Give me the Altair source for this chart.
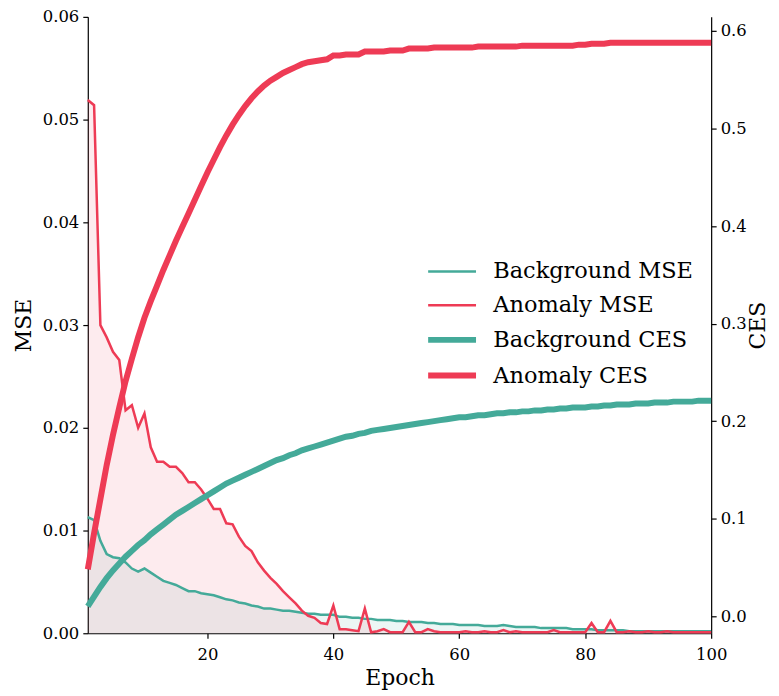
import altair as alt
import pandas as pd

epochs = list(range(1, 101))

anomaly_mse = [
    0.0519, 0.0514, 0.0300, 0.0288, 0.0274, 0.0266, 0.0217, 0.0222, 0.0200, 0.0214,
    0.0181, 0.0167, 0.0167, 0.0162, 0.0162, 0.0156, 0.0147, 0.0147, 0.0140, 0.0131,
    0.0121, 0.0121, 0.0107, 0.0106, 0.0094, 0.0085, 0.0080, 0.0069, 0.0061, 0.0054,
    0.0048, 0.0041, 0.0035, 0.0029, 0.0022, 0.0017, 0.0015, 0.0010, 0.0009, 0.0027,
    0.0004, 0.0004, 0.0003, 0.0002, 0.0024, 0.0001, 0.0002, 0.0004, 0.0001, 0.0001,
    0.0001, 0.0011, 0.0001, 0.0001, 0.0004, 0.0002, 0.0001, 0.0001, 0.0001, 0.0001,
    0.0002, 0.0001, 0.0001, 0.0002, 0.0001, 0.0001, 0.0003, 0.0001, 0.0002, 0.0001,
    0.0001, 0.0001, 0.0001, 0.0001, 0.0003, 0.0001, 0.0001, 0.0001, 0.0001, 0.0001,
    0.0010, 0.0001, 0.0001, 0.0012, 0.0001, 0.0001, 0.0002, 0.0001, 0.0001, 0.0002,
    0.0001, 0.0001, 0.0002, 0.0001, 0.0001, 0.0001, 0.0001, 0.0001, 0.0001, 0.0001,
]

background_mse = [
    0.0113, 0.0110, 0.0090, 0.0077, 0.0074, 0.0073, 0.0069, 0.0063, 0.0060, 0.0063,
    0.0059, 0.0055, 0.0051, 0.0049, 0.0047, 0.0044, 0.0041, 0.0041, 0.0039, 0.0038,
    0.0037, 0.0035, 0.0033, 0.0032, 0.0030, 0.0029, 0.0027, 0.0026, 0.0024, 0.0024,
    0.0023, 0.0022, 0.0022, 0.0021, 0.0020, 0.0019, 0.0019, 0.0018, 0.0018, 0.0018,
    0.0016, 0.0016, 0.0015, 0.0015, 0.0014, 0.0014, 0.0013, 0.0013, 0.0013, 0.0012,
    0.0012, 0.0011, 0.0011, 0.0011, 0.0010, 0.0010, 0.0009, 0.0009, 0.0009, 0.0008,
    0.0008, 0.0008, 0.0008, 0.0007, 0.0007, 0.0007, 0.0008, 0.0007, 0.0006, 0.0006,
    0.0006, 0.0006, 0.0005, 0.0005, 0.0005, 0.0005, 0.0005, 0.0004, 0.0004, 0.0004,
    0.0004, 0.0003, 0.0003, 0.0003, 0.0003, 0.0003, 0.0002, 0.0002, 0.0002, 0.0002,
    0.0002, 0.0002, 0.0002, 0.0002, 0.0002, 0.0002, 0.0002, 0.0002, 0.0002, 0.0002,
]

background_ces = [
    0.010, 0.020, 0.030, 0.039, 0.047, 0.054, 0.061, 0.067, 0.073, 0.078,
    0.084, 0.089, 0.094, 0.099, 0.104, 0.108, 0.112, 0.116, 0.120, 0.124,
    0.128, 0.132, 0.136, 0.139, 0.142, 0.145, 0.148, 0.151, 0.154, 0.157,
    0.160, 0.162, 0.165, 0.167, 0.170, 0.172, 0.174, 0.176, 0.178, 0.180,
    0.182, 0.184, 0.185, 0.187, 0.188, 0.190, 0.191, 0.192, 0.193, 0.194,
    0.195, 0.196, 0.197, 0.198, 0.199, 0.200, 0.201, 0.202, 0.203, 0.204,
    0.204, 0.205, 0.206, 0.206, 0.207, 0.208, 0.208, 0.209, 0.209, 0.210,
    0.210, 0.211, 0.211, 0.212, 0.212, 0.213, 0.213, 0.214, 0.214, 0.214,
    0.215, 0.215, 0.216, 0.216, 0.217, 0.217, 0.217, 0.218, 0.218, 0.218,
    0.219, 0.219, 0.219, 0.220, 0.220, 0.220, 0.220, 0.221, 0.221, 0.221,
]

anomaly_ces = [
    0.048, 0.085, 0.120, 0.155, 0.186, 0.214, 0.241, 0.264, 0.286, 0.306,
    0.323, 0.339, 0.355, 0.370, 0.385, 0.399, 0.413, 0.427, 0.441, 0.455,
    0.468, 0.481, 0.493, 0.504, 0.514, 0.523, 0.531, 0.538, 0.544, 0.549,
    0.553, 0.557, 0.560, 0.563, 0.566, 0.568, 0.569, 0.570, 0.571, 0.575,
    0.575, 0.576, 0.576, 0.576, 0.579, 0.579, 0.579, 0.579, 0.580, 0.580,
    0.580, 0.582, 0.582, 0.582, 0.582, 0.583, 0.583, 0.583, 0.583, 0.583,
    0.583, 0.583, 0.584, 0.584, 0.584, 0.584, 0.584, 0.584, 0.584, 0.585,
    0.585, 0.585, 0.585, 0.585, 0.585, 0.585, 0.585, 0.585, 0.586, 0.586,
    0.587, 0.587, 0.587, 0.588, 0.588, 0.588, 0.588, 0.588, 0.588, 0.588,
    0.588, 0.588, 0.588, 0.588, 0.588, 0.588, 0.588, 0.588, 0.588, 0.588,
]

series_names = ["Background MSE", "Anomaly MSE", "Background CES", "Anomaly CES"]
THIN = 2.5
THICK = 6
TEAL = "#44AA99"
RED = "#EE3B55"
FONT = "DejaVu Serif"

df_bg_mse = pd.DataFrame({"epoch": epochs, "value": background_mse, "series": "Background MSE"})
df_an_mse = pd.DataFrame({"epoch": epochs, "value": anomaly_mse, "series": "Anomaly MSE"})
df_bg_ces = pd.DataFrame({"epoch": epochs, "value": background_ces, "series": "Background CES"})
df_an_ces = pd.DataFrame({"epoch": epochs, "value": anomaly_ces, "series": "Anomaly CES"})

x_enc = alt.X(
    "epoch:Q",
    scale=alt.Scale(domain=[1, 100], nice=False, zero=False),
    axis=alt.Axis(values=[20, 40, 60, 80, 100], title="Epoch", format="d",
                  labelFlush=False, labelPadding=8, titlePadding=5),
)

y_left = alt.Y(
    "value:Q",
    scale=alt.Scale(domain=[0, 0.06], nice=False, zero=False),
    axis=alt.Axis(orient="left", title="MSE", values=[0, 0.01, 0.02, 0.03, 0.04, 0.05, 0.06],
                  format=".2f", labelFlush=False, titlePadding=7),
)
y_right = alt.Y(
    "value:Q",
    scale=alt.Scale(domain=[-0.0175, 0.6145], nice=False, zero=False),
    axis=alt.Axis(orient="right", title="CES", values=[0, 0.1, 0.2, 0.3, 0.4, 0.5, 0.6],
                  format=".1f", labelFlush=False, titlePadding=23, titleAngle=270),
)

legend_def = alt.Legend(
    title=None, orient="none", legendX=354, legendY=244,
    symbolType="M-2.4,0L2.4,0", symbolSize=400, labelOffset=30, labelLimit=400,
    labelFont=FONT, labelFontSize=22.5, rowPadding=10.8, symbolOpacity=1,
    symbolStrokeWidth=alt.ExprRef(expr=f"test(/CES/, datum.value) ? {THICK} : {THIN}"),
)

color_enc = alt.Color(
    "series:N",
    sort=series_names,
    scale=alt.Scale(domain=series_names, range=[TEAL, RED, TEAL, RED]),
    legend=legend_def,
)

area_bg = alt.Chart(df_bg_mse).mark_area(color=TEAL, opacity=0.1).encode(x=x_enc, y=y_left)
area_an = alt.Chart(df_an_mse).mark_area(color=RED, opacity=0.1).encode(x=x_enc, y=y_left)
line_bg_mse = alt.Chart(df_bg_mse).mark_line(strokeWidth=THIN).encode(x=x_enc, y=y_left, color=color_enc)
line_an_mse = alt.Chart(df_an_mse).mark_line(strokeWidth=THIN).encode(x=x_enc, y=y_left, color=color_enc)

line_bg_ces = alt.Chart(df_bg_ces).mark_line(strokeWidth=THICK).encode(x=x_enc, y=y_right, color=color_enc)
line_an_ces = alt.Chart(df_an_ces).mark_line(strokeWidth=THICK).encode(x=x_enc, y=y_right, color=color_enc)

left = alt.layer(area_bg, area_an, line_bg_mse, line_an_mse)
right = alt.layer(line_bg_ces, line_an_ces)

chart = (
    alt.layer(left, right)
    .resolve_scale(y="independent")
    .properties(
        width=625, height=618,
        autosize=alt.AutoSizeParams(type="none"),
        padding={"left": 80, "top": 8, "right": 60, "bottom": 56},
    )
    .configure_view(stroke=None)
    .configure_axis(
        grid=False, domainColor="black", domainWidth=1.2, tickColor="black", tickWidth=1.2,
        tickSize=5, labelColor="black", titleColor="black", labelFont=FONT, titleFont=FONT,
        labelFontSize=16.5, titleFontSize=22, titleFontWeight="normal", labelOverlap=False,
        labelPadding=4,
    )
    .configure_legend(labelColor="black")
)

chart.save("out.html", embed_options={"renderer": "svg", "actions": False})
